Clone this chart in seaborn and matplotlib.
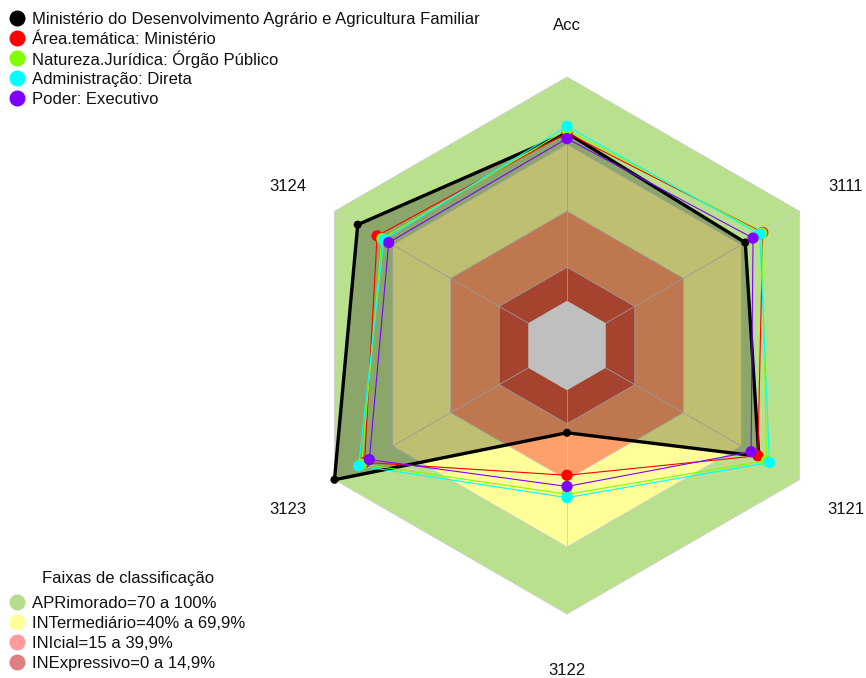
import numpy as np
import pandas as pd
import matplotlib
matplotlib.use("Agg")
import matplotlib.pyplot as plt
import seaborn as sns
from matplotlib.lines import Line2D

EIXOS = ["Acc", "3111", "3121", "3122", "3123", "3124"]
ANGULOS = [90, 30, -30, -90, -150, 150]

SERIES = [
    "Ministério do Desenvolvimento Agrário e Agricultura Familiar",
    "Área.temática: Ministério",
    "Natureza.Jurídica: Órgão Público",
    "Administração: Direta",
    "Poder: Executivo",
]
ministerio = [75.0, 72.0, 79.0, 19.0, 100.0, 88.0]
area_tematica = [75.0, 81.0, 78.5, 38.0, 84.5, 78.0]
natureza = [76.5, 80.5, 83.0, 46.5, 86.0, 75.5]
administracao = [78.0, 79.5, 84.5, 48.0, 87.5, 74.5]
poder = [72.5, 76.0, 75.0, 43.0, 82.0, 72.0]
CORES = ["#000000", "#ff0000", "#80ff00", "#00ffff", "#8000ff"]

FAIXAS = [
    "APRimorado=70 a 100%",
    "INTermediário=40% a 69,9%",
    "INIcial=15 a 39,9%",
    "INExpressivo=0 a 14,9%",
]
faixa_limites = [100, 70, 40, 15]
faixa_cores = ["#b9e08d", "#ffff99", "#ffa06b", "#dd5a40"]
faixa_legenda = ["#b5dd8b", "#ffff99", "#ff9b9b", "#df8080"]


def raio(v):
    # centro vazio como no fmsb (seg=5)
    return 1 / 6 + 5 / 6 * np.asarray(v, dtype=float) / 100


def xy(valores):
    r = raio(valores)
    a = np.deg2rad(ANGULOS)
    return r * np.cos(a), r * np.sin(a)


sns.set_theme(style="white")
plt.rcParams["font.family"] = ["Liberation Sans", "DejaVu Sans"]

W, H = 866, 678
CX, CY, R = 567, 345.5, 268.5
fig = plt.figure(figsize=(W / 100, H / 100), dpi=100)
ax = fig.add_axes([0, 0, 1, 1])
ax.set_xlim(-CX / R, (W - CX) / R)
ax.set_ylim(-(H - CY) / R, CY / R)
ax.set_aspect("equal")
ax.axis("off")

# faixas de classificacao
ang = np.deg2rad(ANGULOS + [ANGULOS[0]])
for lim, cor in zip(faixa_limites, faixa_cores):
    r = raio(lim)
    ax.fill(r * np.cos(ang), r * np.sin(ang), color=cor, zorder=1, lw=0)
r0 = raio(0)
ax.fill(r0 * np.cos(ang), r0 * np.sin(ang), color="white", zorder=1, lw=0)
for lim in faixa_limites:
    r = raio(lim)
    ax.plot(r * np.cos(ang), r * np.sin(ang), color="#cfcfcf", lw=0.6, zorder=2)
for a in ang[:-1]:
    ax.plot([r0 * np.cos(a), np.cos(a)], [r0 * np.sin(a), np.sin(a)],
            color="#cfcfcf", lw=0.6, zorder=2)

valores = [ministerio, area_tematica, natureza, administracao, poder]
linhas = []
for nome, vals in zip(SERIES, valores):
    x, y = xy(vals)
    for eixo, v, xi, yi in zip(EIXOS, vals, x, y):
        linhas.append({"serie": nome, "eixo": eixo, "valor": v, "x": xi, "y": yi})
df = pd.DataFrame(linhas)

for i, (nome, cor) in enumerate(zip(SERIES, CORES)):
    d = df[df["serie"] == nome]
    xs = list(d["x"]) + [d["x"].iloc[0]]
    ys = list(d["y"]) + [d["y"].iloc[0]]
    if i == 0:
        ax.fill(xs, ys, color="black", alpha=0.25, lw=0, zorder=3)
        ax.plot(xs, ys, color=cor, lw=2.4, zorder=4)
    else:
        ax.plot(xs, ys, color=cor, lw=0.8, zorder=4)

tamanhos = {nome: (34 if i == 0 else 66) for i, nome in enumerate(SERIES)}
sns.scatterplot(data=df, x="x", y="y", hue="serie", palette=dict(zip(SERIES, CORES)),
                size="serie", sizes=tamanhos, linewidth=0, legend=False, ax=ax, zorder=5)

for eixo, a in zip(EIXOS, np.deg2rad(ANGULOS)):
    ax.text(1.2 * np.cos(a), 1.2 * np.sin(a) - 2.5 / R, eixo, ha="center", va="center",
            fontsize=12, color="#111111")


# legendas montadas a mao, em pixels da figura
def item_legenda(px, py, cor, texto):
    fig.add_artist(Line2D([px / W], [1 - py / H], marker="o", ls="", color=cor,
                          markersize=10.5, transform=fig.transFigure))
    fig.text((px + 15) / W, 1 - py / H, texto, ha="left", va="center_baseline",
             fontsize=12, color="#111111")


for i, (nome, cor) in enumerate(zip(SERIES, CORES)):
    item_legenda(17, 18 + 20 * i, cor, nome)

fig.text(128 / W, 1 - 577 / H, "Faixas de classificação", ha="center",
         va="center_baseline", fontsize=12, color="#111111")
for i, (nome, cor) in enumerate(zip(FAIXAS, faixa_legenda)):
    item_legenda(17, 602 + 20 * i, cor, nome)

fig.savefig("out.png", dpi=100)
